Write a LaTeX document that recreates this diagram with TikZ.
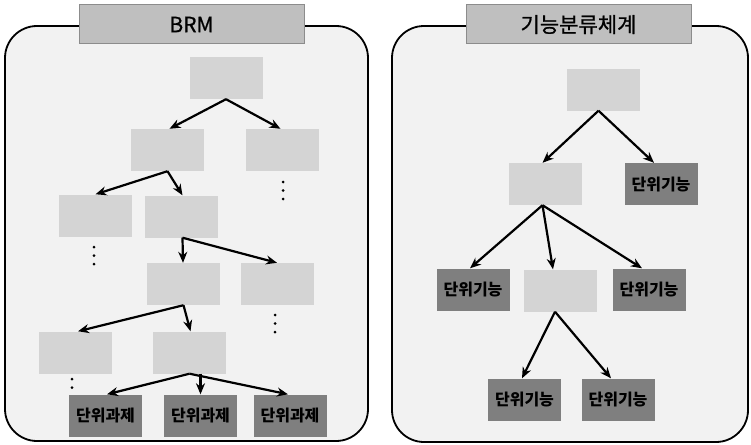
\documentclass[tikz,border=0pt]{standalone}
\usepackage{fontspec}
\newfontfamily\kr{Noto Sans CJK KR}
\newfontfamily\krtitle{Noto Sans CJK KR}[FakeBold=0.8]
\usetikzlibrary{arrows.meta}
\definecolor{panelfill}{HTML}{F2F2F2}
\definecolor{lightbox}{HTML}{D4D4D4}
\definecolor{darkbox}{HTML}{7F7F7F}
\definecolor{titlefill}{HTML}{BFBFBF}
\definecolor{titleline}{HTML}{8C8C8C}
\begin{document}
\begin{tikzpicture}[x=1pt,y=-1pt,
  panel/.style={draw=black,line width=1.8pt,fill=panelfill,rounded corners=32pt},
  titlebox/.style={draw=titleline,line width=1pt,fill=titlefill,minimum width=225pt,minimum height=39pt,inner sep=0pt,font=\krtitle\fontsize{21}{24}\selectfont},
  lbox/.style={fill=lightbox,minimum width=73pt,minimum height=42pt,inner sep=0pt},
  dbox/.style={fill=darkbox,minimum width=73pt,minimum height=42pt,inner sep=0pt,font=\kr\bfseries\fontsize{16}{18}\selectfont},
  arr/.style={line width=2.2pt,-{Stealth[length=11pt,width=9pt]}},
  vdot/.style={fill=black,circle,inner sep=0pt,minimum size=3pt}
]
\useasboundingbox (0,0) rectangle (751,444);
% panels
\draw[panel] (5,26) rectangle (368,441);
\draw[panel] (392,26) rectangle (748,442);
\node[titlebox] (t1) at (191.5,24.5) {BRM};
\node[titlebox] (t2) at (578.5,24.5) {기능분류체계};

% left tree
\node[lbox] (L0) at (226,78) {};
\node[lbox] (L1a) at (167.5,150) {};
\node[lbox] (L1b) at (282.5,150) {};
\node[lbox] (L2a) at (95.5,215.5) {};
\node[lbox] (L2b) at (181.5,216.5) {};
\node[lbox] (L3a) at (183.5,284) {};
\node[lbox] (L3b) at (277,284) {};
\node[lbox] (L4a) at (75,352.5) {};
\node[lbox] (L4b) at (189.5,352.5) {};
% vertical dots
\foreach \y [count=\i] in {182,190.5,199} \node[vdot] (da\i) at (283,\y) {};
\foreach \y [count=\i] in {247,255.5,264} \node[vdot] (db\i) at (94,\y) {};
\foreach \y [count=\i] in {315,323.5,332} \node[vdot] (dc\i) at (275,\y) {};
\foreach \y [count=\i] in {379,387.5} \node[vdot] (dd\i) at (72,\y) {};
\node[dbox] (D1) at (105.5,415.5) {단위과제};
\node[dbox] (D2) at (200.5,415.5) {단위과제};
\node[dbox] (D3) at (290,415.5) {단위과제};

\draw[arr] (L0.south) -- ([xshift=2pt]L1a.north);
\draw[arr] (L0.south) -- ([xshift=-2pt]L1b.north);
\draw[arr] (L1a.south) -- (L2a.north);
\draw[arr] (L1a.south) -- ([xshift=1pt]L2b.north);
\draw[arr] ([xshift=1pt]L2b.south) -- ([xshift=-0.5pt]L3a.north);
\draw[arr] ([xshift=1pt]L2b.south) -- (L3b.north);
\draw[arr] (L3a.south) -- ([xshift=3pt]L4a.north);
\draw[arr] (L3a.south) -- ([xshift=1pt]L4b.north);
\draw[arr] (L4b.south) -- ([xshift=1.5pt]D1.north);
\draw[arr] (L4b.south -| D2.north) -- (D2.north);
\draw[arr] (L4b.south) -- ([xshift=-2pt]D3.north);

% right tree
\node[lbox] (R0) at (603.5,89.5) {};
\node[lbox] (R1a) at (545.5,184) {};
\node[dbox] (R1b) at (661,184) {단위기능};
\node[dbox] (R2a) at (473,289.5) {단위기능};
\node[lbox] (R2b) at (560,290.5) {};
\node[dbox] (R2c) at (649,289.5) {단위기능};
\node[dbox] (R3a) at (524.5,399.5) {단위기능};
\node[dbox] (R3b) at (618,399.5) {단위기능};

\draw[arr] ([xshift=-5pt]R0.south) -- ([xshift=-3pt]R1a.north);
\draw[arr] ([xshift=-5pt]R0.south) -- ([xshift=-7pt]R1b.north);
\draw[arr] ([xshift=-3pt]R1a.south) -- ([xshift=-3pt]R2a.north);
\draw[arr] ([xshift=-3pt]R1a.south) -- ([xshift=-7pt]R2b.north);
\draw[arr] ([xshift=-3pt]R1a.south) -- ([xshift=-7pt]R2c.north);
\draw[arr] ([xshift=-5pt]R2b.south) -- ([xshift=-2.5pt]R3a.north);
\draw[arr] ([xshift=-5pt]R2b.south) -- ([xshift=-7pt]R3b.north);
\end{tikzpicture}
\end{document}
